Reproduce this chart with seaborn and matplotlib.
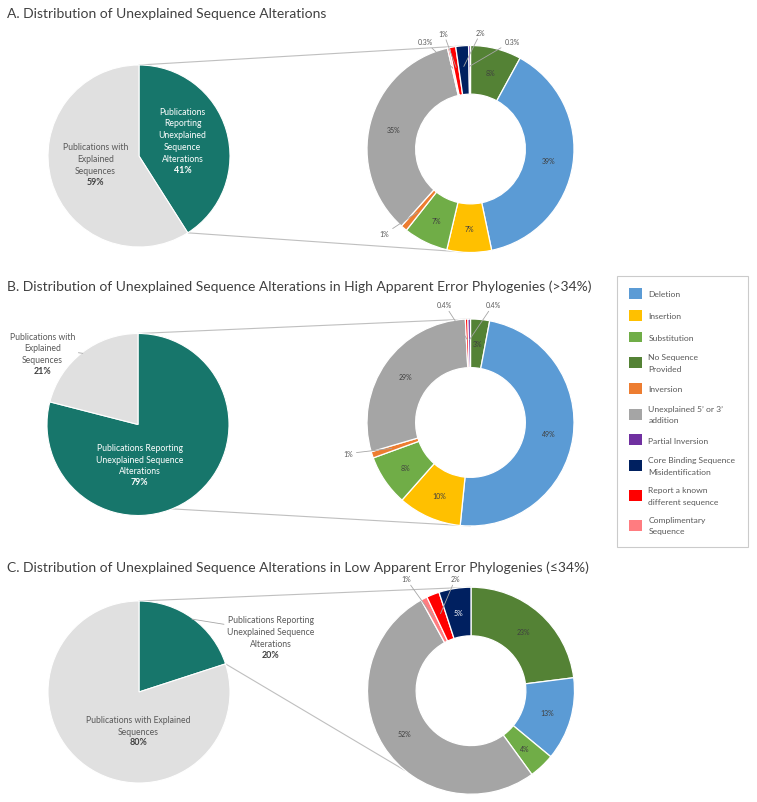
import numpy as np
import pandas as pd
import matplotlib
matplotlib.use("Agg")
import matplotlib.pyplot as plt
import seaborn as sns
from matplotlib.patches import Patch, ConnectionPatch

sns.set_theme(style="white")
plt.rcParams['font.family'] = ['Lato', 'DejaVu Sans']

# ---------------- data ----------------
categories = ["No Sequence Provided", "Deletion", "Insertion", "Substitution",
              "Inversion", "Unexplained 5’ or 3’ addition", "Complimentary Sequence",
              "Report a known different sequence", "Core Binding Sequence Misidentification",
              "Partial Inversion"]
alt_a = [8, 39, 7, 7, 1, 35, 0.3, 1, 2, 0.3]
alt_b = [3, 49, 10, 8, 1, 29, 0, 0.4, 0, 0.4]
alt_c = [23, 13, 0, 4, 0, 52, 1, 2, 5, 0]

pub_categories = ["Publications Reporting Unexplained Sequence Alterations",
                  "Publications with Explained Sequences"]
pub_a = [41, 59]
pub_b = [79, 21]
pub_c = [20, 80]

titles = ["A. Distribution of Unexplained Sequence Alterations",
          "B. Distribution of Unexplained Sequence Alterations in High Apparent Error Phylogenies (>34%)",
          "C. Distribution of Unexplained Sequence Alterations in Low Apparent Error Phylogenies (≤34%)"]

legend_order = ["Deletion", "Insertion", "Substitution", "No Sequence Provided", "Inversion",
                "Unexplained 5’ or 3’ addition", "Partial Inversion",
                "Core Binding Sequence Misidentification", "Report a known different sequence",
                "Complimentary Sequence"]
legend_text = ["Deletion", "Insertion", "Substitution", "No Sequence\nProvided", "Inversion",
               "Unexplained 5’ or 3’\naddition", "Partial Inversion",
               "Core Binding Sequence\nMisidentification", "Report a known\ndifferent sequence",
               "Complimentary\nSequence"]

# ---------------- style ----------------
cat_colors = dict(zip(categories, sns.color_palette(
    ["#548235", "#5B9BD5", "#FFC000", "#70AD47", "#ED7D31", "#A5A5A5",
     "#FF7C80", "#FF0000", "#002060", "#7030A0"])))
TEAL = "#17766B"
LGRAY = "#E0E0E0"
TXT = "#595959"
LINE = "#BFBFBF"

W, H = 757, 803
fig = plt.figure(figsize=(W / 100, H / 100), dpi=100)
fig.patch.set_facecolor("white")

K = 1.06


def make_ax(cx, cy, r):
    s = r * K
    ax = fig.add_axes([(cx - s) / W, 1 - (cy + s) / H, 2 * s / W, 2 * s / H])
    return ax


def finish(ax):
    ax.set_xlim(-K, K)
    ax.set_ylim(-K, K)
    ax.set_aspect("equal")
    ax.axis("off")


def pt(ang_cw, r=1.0):
    a = np.deg2rad(ang_cw)
    return (r * np.sin(a), r * np.cos(a))


def draw_donut(ax, values, outside):
    vals = np.array(values, float)
    mask = vals > 0
    v = vals[mask]
    cats = [c for c, m in zip(categories, mask) if m]
    cols = [cat_colors[c] for c in cats]
    wedges, _ = ax.pie(v, colors=cols, startangle=90, counterclock=False, radius=1,
                       wedgeprops=dict(width=0.47, edgecolor="white", linewidth=0.9))
    for w, val, cat in zip(wedges, v, cats):
        a = np.deg2rad((w.theta1 + w.theta2) / 2)
        txt = f"{val:g}%"
        if cat in outside:
            ax.annotate(txt, xy=(0.8 * np.cos(a), 0.8 * np.sin(a)), xytext=outside[cat],
                        ha="center", va="center", fontsize=5, color=TXT,
                        arrowprops=dict(arrowstyle="-", color="#A6A6A6", lw=0.6,
                                        shrinkA=0, shrinkB=0))
        else:
            col = "white" if cat.startswith("Core") else "#404040"
            ax.text(0.765 * np.cos(a), 0.765 * np.sin(a), txt, ha="center", va="center",
                    fontsize=5, color=col)
    finish(ax)


def draw_pie(ax, values, names, anchors, outside_idx=None):
    wedges, _ = ax.pie(values, colors=[TEAL, LGRAY], startangle=90, counterclock=False,
                       radius=1, wedgeprops=dict(edgecolor="white", linewidth=0.8))
    for i, (w, val) in enumerate(zip(wedges, values)):
        x, y = anchors[i]
        col = "white" if i == 0 and outside_idx != 0 else TXT
        pcol = "white" if col == "white" else "#404040"
        if outside_idx == i:
            a = np.deg2rad((w.theta1 + w.theta2) / 2)
            ax.annotate(names[i], xy=(0.99 * np.cos(a), 0.99 * np.sin(a)), xytext=(x, y),
                        ha="center", va="bottom", fontsize=6.2, color=TXT,
                        linespacing=1.42,
                        arrowprops=dict(arrowstyle="-", color="#A6A6A6", lw=0.6,
                                        shrinkA=0, shrinkB=0))
        else:
            ax.text(x, y, names[i], ha="center", va="bottom", fontsize=6.2, color=col,
                    linespacing=1.42)
        ax.text(x, y - 0.02, f"{val:g}%", ha="center", va="top", fontsize=6.4,
                color=pcol, fontweight="bold")
    finish(ax)


# layout per panel: pie centre, donut centre (pixels)
panels = [
    dict(pie=(139, 157), donut=(470.5, 150), title_y=14, pub=pub_a, alt=alt_a,
         names=["Publications\nReporting\nUnexplained\nSequence\nAlterations",
                "Publications with\nExplained\nSequences"],
         anchors=[(0.48, -0.08), (-0.48, -0.21)], out_idx=None,
         outside={"Inversion": (-0.83, -0.82), "Complimentary Sequence": (-0.44, 1.04),
                  "Report a known different sequence": (-0.26, 1.12),
                  "Core Binding Sequence Misidentification": (0.10, 1.13),
                  "Partial Inversion": (0.40, 1.04)},
         conn=[(0, 0), (147.6, 180)]),
    dict(pie=(138, 425.5), donut=(470.5, 423.5), title_y=287, pub=pub_b, alt=alt_b,
         names=["Publications Reporting\nUnexplained Sequence\nAlterations",
                "Publications with\nExplained\nSequences"],
         anchors=[(0.02, -0.56), (-1.05, 0.66)], out_idx=1,
         outside={"Report a known different sequence": (-0.25, 1.14),
                  "Partial Inversion": (0.22, 1.14),
                  "Inversion": (-1.18, -0.30)},
         conn=[(0, 0), (158, 180)]),
    dict(pie=(139, 693), donut=(471, 691.7), title_y=568, pub=pub_c, alt=alt_c,
         names=["Publications Reporting\nUnexplained Sequence\nAlterations",
                "Publications with Explained\nSequences"],
         anchors=[(1.45, 0.48), (-0.01, -0.48)], out_idx=0,
         outside={"Complimentary Sequence": (-0.63, 1.085),
                  "Report a known different sequence": (-0.15, 1.085)},
         conn=[(0, 0), (72, 219.5)]),
]

for p, title in zip(panels, titles):
    axp = make_ax(p["pie"][0], p["pie"][1], 91)
    axd = make_ax(p["donut"][0], p["donut"][1], 103.5)
    axd.set_zorder(3)
    axp.set_zorder(2)
    draw_pie(axp, p["pub"], p["names"], p["anchors"], p["out_idx"])
    draw_donut(axd, p["alt"], p["outside"])
    for a_pie, a_don in p["conn"]:
        cp = ConnectionPatch(xyA=pt(a_pie), coordsA=axp.transData,
                             xyB=pt(a_don), coordsB=axd.transData,
                             color=LINE, lw=0.8, zorder=1)
        fig.add_artist(cp)
    fig.text(7 / W, 1 - p["title_y"] / H, title, ha="left", va="center",
             fontsize=10, color="#404040")

handles = [Patch(facecolor=cat_colors[c], edgecolor="none") for c in legend_order]
leg = fig.legend(handles, legend_text, loc="upper left",
                 bbox_to_anchor=(617 / W, 1 - 277 / H), borderaxespad=0,
                 fontsize=6.1, frameon=True, fancybox=False, labelspacing=1.3,
                 handlelength=1.55, handleheight=1.55, handletextpad=0.7,
                 borderpad=1.45, labelcolor=TXT)
leg.get_frame().set_edgecolor(LINE)
leg.get_frame().set_linewidth(0.8)
for t in leg.get_texts():
    t.set_linespacing(1.8)

fig.savefig("out.png", dpi=100, facecolor="white")
